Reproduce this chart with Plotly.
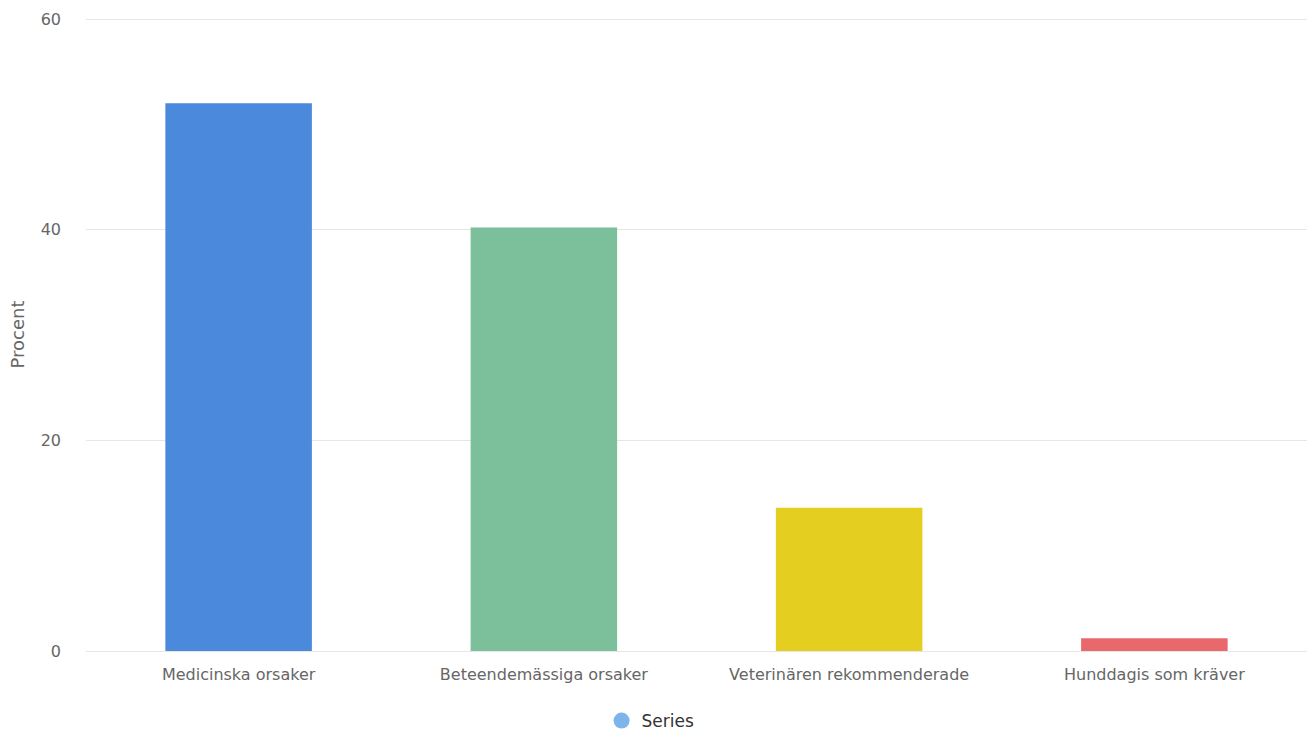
import plotly.graph_objects as go

categories = ["Medicinska orsaker", "Beteendemässiga orsaker", "Veterinären rekommenderade", "Hunddagis som kräver"]
values = [52.0, 40.2, 13.6, 1.2]
bar_colors = ["#4a89dc", "#7bc09a", "#e4cf20", "#e8686b"]
y_ticks = [0, 20, 40, 60]
series_name = "Series"

font_family = "DejaVu Sans, Verdana, sans-serif"

fig = go.Figure()
fig.add_trace(go.Bar(
    x=categories, y=values, marker=dict(color=bar_colors, line=dict(width=0)),
    showlegend=False, name=series_name,
))
fig.add_trace(go.Scatter(
    x=[None], y=[None], mode="markers", name=series_name,
    marker=dict(symbol="circle", size=18, color="#7cb5ec"), showlegend=True,
))

fig.update_layout(
    width=1309, height=735,
    margin=dict(l=86, r=2, t=18, b=84),
    paper_bgcolor="white", plot_bgcolor="white",
    bargap=0.52,
    font=dict(family=font_family, size=16, color="#666666"),
    legend=dict(orientation="h", x=0.497, xanchor="center", xref="container",
                y=14 / 735, yanchor="middle", yref="container",
                font=dict(size=17, color="#333333"), itemsizing="trace"),
    xaxis=dict(showgrid=False, showline=True, linecolor="#e6e6e6", linewidth=1,
               ticks="", ticklabelstandoff=9, automargin=False,
               tickfont=dict(size=16, color="#666666")),
    yaxis=dict(range=[0, 60.1], tickvals=y_ticks, showgrid=True, gridcolor="#e6e6e6",
               zeroline=False, showline=False, ticks="", ticklabelstandoff=24,
               automargin=False,
               title=dict(text="Procent", font=dict(size=18, color="#666666"), standoff=11),
               tickfont=dict(size=16, color="#666666")),
)

fig.write_html(
    "out.html",
    config={"displayModeBar": False},
    post_script="document.body.style.margin='0';document.body.style.overflow='hidden';",
)
